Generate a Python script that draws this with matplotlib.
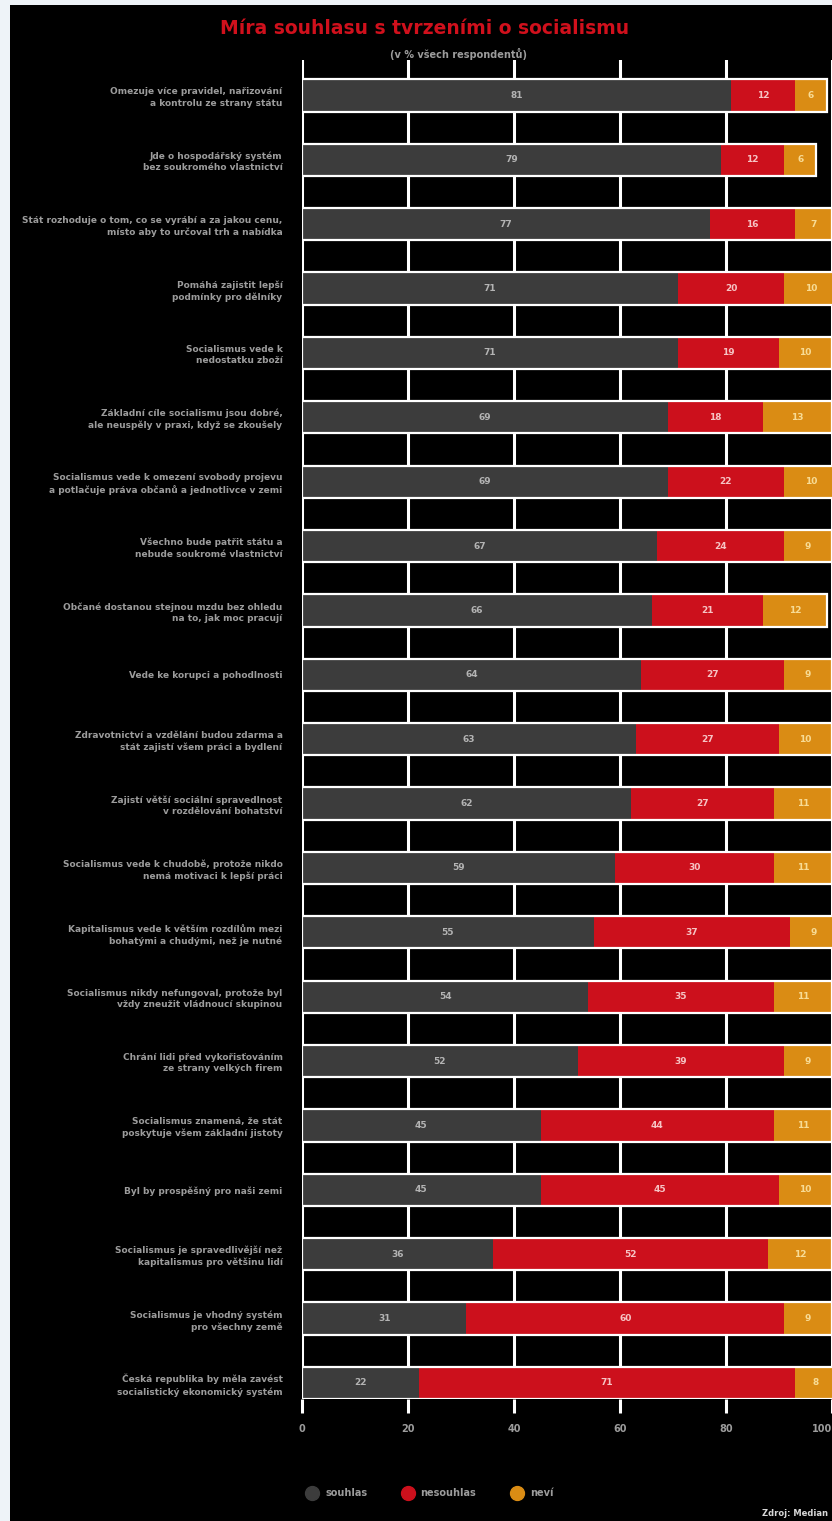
import matplotlib.pyplot as plt
from matplotlib.lines import Line2D
from matplotlib.patches import Rectangle
import numpy as np

# Data
labels = [
    "Omezuje více pravidel, nařizování\na kontrolu ze strany státu",
    "Jde o hospodářský systém\nbez soukromého vlastnictví",
    "Stát rozhoduje o tom, co se vyrábí a za jakou cenu,\nmísto aby to určoval trh a nabídka",
    "Pomáhá zajistit lepší\npodmínky pro dělníky",
    "Socialismus vede k\nnedostatku zboží",
    "Základní cíle socialismu jsou dobré,\nale neuspěly v praxi, když se zkoušely",
    "Socialismus vede k omezení svobody projevu\na potlačuje práva občanů a jednotlivce v zemi",
    "Všechno bude patřit státu a\nnebude soukromé vlastnictví",
    "Občané dostanou stejnou mzdu bez ohledu\nna to, jak moc pracují",
    "Vede ke korupci a pohodlnosti",
    "Zdravotnictví a vzdělání budou zdarma a\nstát zajistí všem práci a bydlení",
    "Zajistí větší sociální spravedlnost\nv rozdělování bohatství",
    "Socialismus vede k chudobě, protože nikdo\nnemá motivaci k lepší práci",
    "Kapitalismus vede k větším rozdílům mezi\nbohatými a chudými, než je nutné",
    "Socialismus nikdy nefungoval, protože byl\nvždy zneužit vládnoucí skupinou",
    "Chrání lidi před vykořisťováním\nze strany velkých firem",
    "Socialismus znamená, že stát\nposkytuje všem základní jistoty",
    "Byl by prospěšný pro naši zemi",
    "Socialismus je spravedlivější než\nkapitalismus pro většinu lidí",
    "Socialismus je vhodný systém\npro všechny země",
    "Česká republika by měla zavést\nsocialistický ekonomický systém",
]
souhlas = [81, 79, 77, 71, 71, 69, 69, 67, 66, 64, 63, 62, 59, 55, 54, 52, 45, 45, 36, 31, 22]
nesouhlas = [12, 12, 16, 20, 19, 18, 22, 24, 21, 27, 27, 27, 30, 37, 35, 39, 44, 45, 52, 60, 71]
nevi = [6, 6, 7, 10, 10, 13, 10, 9, 12, 9, 10, 11, 11, 9, 11, 9, 11, 10, 12, 9, 8]
series_names = ["souhlas", "nesouhlas", "neví"]
xticks = [0, 20, 40, 60, 80, 100]

colors = ["#3c3c3c", "#cc101c", "#da8c14"]
text_colors = ["#b4b4b4", "#f6c4c4", "#f8dc96"]
label_gray = "#9c9c9c"

fig = plt.figure(figsize=(8.32, 15.21), dpi=100)
fig.patch.set_facecolor("#eef3f8")
fig.patches.append(Rectangle((10 / 832, 0), 1, 1 - 5 / 1521, transform=fig.transFigure,
                             facecolor="black", edgecolor="none", zorder=-10))

ax = fig.add_axes([302 / 832, 1 - 1399 / 1521, 530 / 832, (1399 - 60) / 1521])
ax.set_facecolor("black")
ax.set_zorder(1)

y = np.arange(len(labels))
data = [souhlas, nesouhlas, nevi]
left = np.zeros(len(labels))
for vals, c, tc in zip(data, colors, text_colors):
    vals = np.array(vals, dtype=float)
    ax.barh(y, vals, left=left, height=0.5, color=c, edgecolor="none", zorder=3)
    for yi, l, v in zip(y, left, vals):
        ax.text(l + v / 2, yi, f"{int(v)}", ha="center", va="center",
                fontsize=6.5, fontweight="bold", color=tc, zorder=5)
    left += vals

# white outline along bar top/bottom
ax.barh(y, left, height=0.5, fill=False, edgecolor="white", linewidth=1.6, zorder=4)

ax.set_xlim(0, 100)
ax.set_ylim(20.25, -0.55)
ax.set_xticks(xticks)
ax.set_xticklabels([str(t) for t in xticks], fontsize=7, fontweight="bold", color=label_gray)
ax.get_xticklabels()[-1].set_horizontalalignment("right")
ax.set_yticks(y)
ax.set_yticklabels(labels, fontsize=6.5, fontweight="bold", color=label_gray, linespacing=1.35)
ax.tick_params(axis="y", length=0, pad=14)
ax.tick_params(axis="x", length=10, width=2.2, color="white", pad=8)
ax.grid(axis="x", color="white", linewidth=2.2, zorder=1)
ax.set_axisbelow(True)
for s in ax.spines.values():
    s.set_visible(False)

fig.text(425 / 832, 1 - 28 / 1521, "Míra souhlasu s tvrzeními o socialismu",
         ha="center", va="center", fontsize=13.5, fontweight="bold", color="#d0101c")
fig.text(458 / 832, 1 - 54 / 1521, "(v % všech respondentů)",
         ha="center", va="center", fontsize=7, fontweight="bold", color=label_gray)

handles = [Line2D([], [], marker="o", linestyle="none", markersize=10,
                  markerfacecolor=c, markeredgecolor=c) for c in colors]
leg = fig.legend(handles, series_names, loc="center", bbox_to_anchor=(428 / 832, 1 - 1493 / 1521),
                 ncol=3, frameon=False, fontsize=7, handletextpad=0.3, columnspacing=3.2)
for t in leg.get_texts():
    t.set_color(label_gray)
    t.set_fontweight("bold")

fig.text(828 / 832, 1 - 1514 / 1521, "Zdroj: Median", ha="right", va="center",
         fontsize=6, fontweight="bold", color="#d8d8d8")

fig.savefig("out.png", dpi=100, facecolor=fig.get_facecolor())
